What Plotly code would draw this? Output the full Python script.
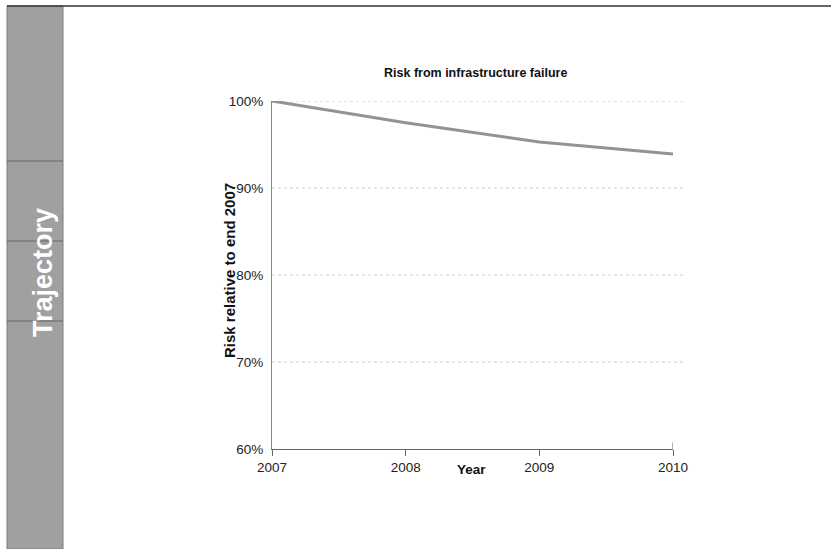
import plotly.graph_objects as go

# Risk trajectory, indexed to end of 2007
years = [2007, 2008, 2009, 2010]
risk_pct = [100.0, 97.5, 95.3, 93.9]

y_ticks = [60, 70, 80, 90, 100]
y_tick_labels = ["60%", "70%", "80%", "90%", "100%"]
x_ticks = [2007, 2008, 2009, 2010]
x_tick_labels = ["2007", "2008", "2009", "2010"]

SANS = "Liberation Sans, Arial, sans-serif"

fig = go.Figure()
fig.add_trace(go.Scatter(
    x=years, y=risk_pct, mode="lines",
    line=dict(color="#939393", width=3),
    hoverinfo="skip", showlegend=False,
))

shapes = []
# dotted grid lines
for v in [70, 80, 90, 100]:
    shapes.append(dict(type="line", xref="x domain", yref="y", x0=0, x1=1.03,
                       y0=v, y1=v, line=dict(color="#cccccc", width=1, dash="dot"),
                       layer="below"))
# small upward tick at the axis end
shapes.append(dict(type="line", xref="x", yref="y", x0=2010, x1=2010, y0=60, y1=60.75,
                   line=dict(color="#666666", width=1)))

# side tab of the page
shapes.append(dict(type="rect", xref="paper", yref="paper", x0=-265/401, x1=-209/401,
                   y0=-100/348, y1=(449-6)/348, fillcolor="#a0a0a0",
                   line=dict(color="#7a7a7a", width=1), layer="below"))
for py in [161, 241, 321]:
    yy = (449 - py) / 348
    shapes.append(dict(type="line", xref="paper", yref="paper", x0=-265/401, x1=-209/401,
                       y0=yy, y1=yy, line=dict(color="#666666", width=1)))
# top rule across the page
shapes.append(dict(type="line", xref="paper", yref="paper", x0=-265/401, x1=559/401,
                   y0=(449-6)/348, y1=(449-6)/348, line=dict(color="#333333", width=1.5)))

annotations = [
    dict(text="<b>Trajectory</b>", xref="paper", yref="paper", x=-229/401, y=(449-273)/348,
         showarrow=False, textangle=-90, font=dict(family=SANS, size=27, color="white"),
         xanchor="center", yanchor="middle"),
    dict(text="<b>Risk from infrastructure failure</b>", xref="paper", yref="paper",
         x=(475-272)/401, y=(449-73)/348, showarrow=False, xanchor="center", yanchor="middle",
         font=dict(family=SANS, size=12.5, color="#111111")),
    dict(text="<b>Year</b>", xref="paper", yref="paper", x=(471-272)/401, y=(449-469)/348,
         showarrow=False, xanchor="center", yanchor="middle",
         font=dict(family=SANS, size=13.5, color="#111111")),
    dict(text="<b>Risk relative to end 2007</b>", xref="paper", yref="paper",
         x=(229-272)/401, y=(449-271)/348, showarrow=False, textangle=-90,
         xanchor="center", yanchor="middle",
         font=dict(family=SANS, size=15, color="#111111")),
]

fig.update_layout(
    width=831, height=549,
    margin=dict(l=272, r=158, t=101, b=100),
    paper_bgcolor="white", plot_bgcolor="white",
    shapes=shapes, annotations=annotations,
    xaxis=dict(range=[2007, 2010], tickvals=x_ticks, ticktext=x_tick_labels,
               showgrid=False, zeroline=False, showline=True, linecolor="#666666",
               linewidth=1, ticks="outside", ticklen=6, tickcolor="#666666",
               tickfont=dict(family=SANS, size=13.5, color="#222222"), fixedrange=True),
    yaxis=dict(range=[60, 100], tickvals=y_ticks, ticktext=y_tick_labels,
               showgrid=False, zeroline=False, showline=True, linecolor="#888888",
               linewidth=1, ticks="", ticklabelstandoff=5,
               tickfont=dict(family=SANS, size=13.5, color="#222222"), fixedrange=True),
)

fig.write_html("out.html")
